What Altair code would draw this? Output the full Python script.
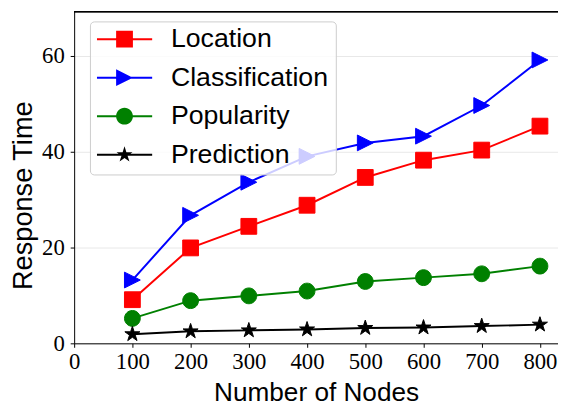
import math
import altair as alt
import pandas as pd

# ---- data ----
nodes = [100, 200, 300, 400, 500, 600, 700, 800]
series_names = ["Location", "Classification", "Popularity", "Prediction"]
location = [9.1, 19.9, 24.4, 28.8, 34.6, 38.2, 40.3, 45.3]
classification = [13.2, 26.7, 33.6, 39.0, 41.8, 43.2, 49.6, 59.1]
popularity = [5.2, 8.9, 9.9, 10.9, 12.9, 13.7, 14.5, 16.1]
prediction = [1.9, 2.5, 2.7, 2.9, 3.2, 3.3, 3.6, 3.9]
series_colors = ["#ff0000", "#0000ff", "#008000", "#000000"]
x_ticks = [0, 100, 200, 300, 400, 500, 600, 700, 800]
y_ticks = [0, 20, 40, 60]

values = [location, classification, popularity, prediction]
rows = []
for name, vals in zip(series_names, values):
    for n, v in zip(nodes, vals):
        rows.append({"series": name, "nodes": n, "time": v})
df = pd.DataFrame(rows)


# ---- marker shapes (custom SVG paths in the [-1, 1] box) ----
def f(v):
    return f"{v:.4f}"


def square(s):
    return f"M{f(-s)},{f(-s)}L{f(s)},{f(-s)}L{f(s)},{f(s)}L{f(-s)},{f(s)}Z"


def tri_right(s):
    return f"M{f(-s)},{f(-s)}L{f(s)},0L{f(-s)},{f(s)}Z"


def circle(s):
    return f"M{f(-s)},0A{f(s)},{f(s)} 0 1,1 {f(s)},0A{f(s)},{f(s)} 0 1,1 {f(-s)},0Z"


def star(s):
    pts = []
    for k in range(10):
        r = s if k % 2 == 0 else s * 0.381966
        a = -math.pi / 2 + k * math.pi / 5
        pts.append((r * math.cos(a), r * math.sin(a)))
    return "M" + "L".join(f"{f(x)},{f(y)}" for x, y in pts) + "Z"


makers = [square, tri_right, circle, star]
point_paths = [m(1.0) for m in makers]

# legend symbol: line segment + marker, unit half-width = 28px
LEG = 56.0
half = 8.5 / (LEG / 2)
thick = 1.0 / (LEG / 2)
line_path = f"M-1,{f(-thick)}L1,{f(-thick)}L1,{f(thick)}L-1,{f(thick)}Z"
legend_paths = [line_path + m(half) for m in makers]

FONT_SANS = "Liberation Sans"
FONT_SERIF = "Liberation Serif"

x_enc = alt.X(
    "nodes:Q",
    scale=alt.Scale(domain=[0, 831], nice=False, zero=False),
    axis=alt.Axis(
        values=x_ticks, grid=False, tickSize=4, tickColor="black", tickWidth=1,
        domainColor="black", domainWidth=1, labelFont=FONT_SERIF, labelFontSize=23,
        labelColor="black", labelPadding=3, labelFlush=False, labelOverlap=False,
        title="Number of Nodes", titleFont=FONT_SANS, titleFontSize=26.5,
        titleFontWeight="normal", titleColor="black", titlePadding=7,
    ),
)
y_enc = alt.Y(
    "time:Q",
    scale=alt.Scale(domain=[0, 69.2], nice=False, zero=False),
    axis=alt.Axis(
        values=y_ticks, grid=True, gridColor="#e8e8e8", gridWidth=1, tickSize=4,
        tickColor="black", tickWidth=1, domainColor="black", domainWidth=1,
        labelFont=FONT_SERIF, labelFontSize=23, labelColor="black", labelPadding=6,
        title="Response Time", titleFont=FONT_SANS, titleFontSize=27.5,
        titleFontWeight="normal", titleColor="black", titleY=186, titleX=-43,
        titleBaseline="alphabetic",
    ),
)

layers = []
for name, color, path in zip(series_names, series_colors, point_paths):
    base = alt.Chart(df).transform_filter(alt.datum.series == name)
    layers.append(
        base.mark_line(color=color, strokeWidth=2).encode(x=x_enc, y=y_enc)
    )
    layers.append(
        base.mark_point(
            shape=path, size=256, filled=True, fill=color, stroke=color,
            strokeWidth=1, opacity=1,
        ).encode(x=x_enc, y=y_enc)
    )

top_border = alt.Chart(df).mark_rule(color="black", strokeWidth=1).encode(
    y=alt.value(0)
)

legend_opts = dict(
    orient="none", legendX=16, legendY=10, title=None, padding=7,
    labelOffset=19, rowPadding=12, clipHeight=22, labelFont=FONT_SANS,
    labelFontSize=27, labelColor="black", labelLimit=400,
    fillColor="rgba(255,255,255,0.8)", strokeColor="#cccccc",
    cornerRadius=4, symbolSize=LEG * LEG, symbolStrokeWidth=0,
    symbolOpacity=1,
)

legend_layer = (
    alt.Chart(df)
    .transform_filter("false")
    .mark_point(filled=True, opacity=1, size=LEG * LEG, strokeWidth=0)
    .encode(
        shape=alt.Shape(
            "series:N",
            scale=alt.Scale(domain=series_names, range=legend_paths),
            legend=alt.Legend(**legend_opts),
        ),
        color=alt.Color(
            "series:N",
            scale=alt.Scale(domain=series_names, range=series_colors),
            legend=alt.Legend(**legend_opts),
        ),
    )
)

chart = (
    alt.layer(*layers, top_border, legend_layer)
    .properties(
        width=490, height=336,
        autosize=alt.AutoSizeParams(type="none"),
        padding={"left": 67, "top": 1, "right": 0, "bottom": 70},
        background="white",
    )
    .configure_view(strokeWidth=0)
)

chart.save("out.html", embed_options={"renderer": "svg", "actions": False})
